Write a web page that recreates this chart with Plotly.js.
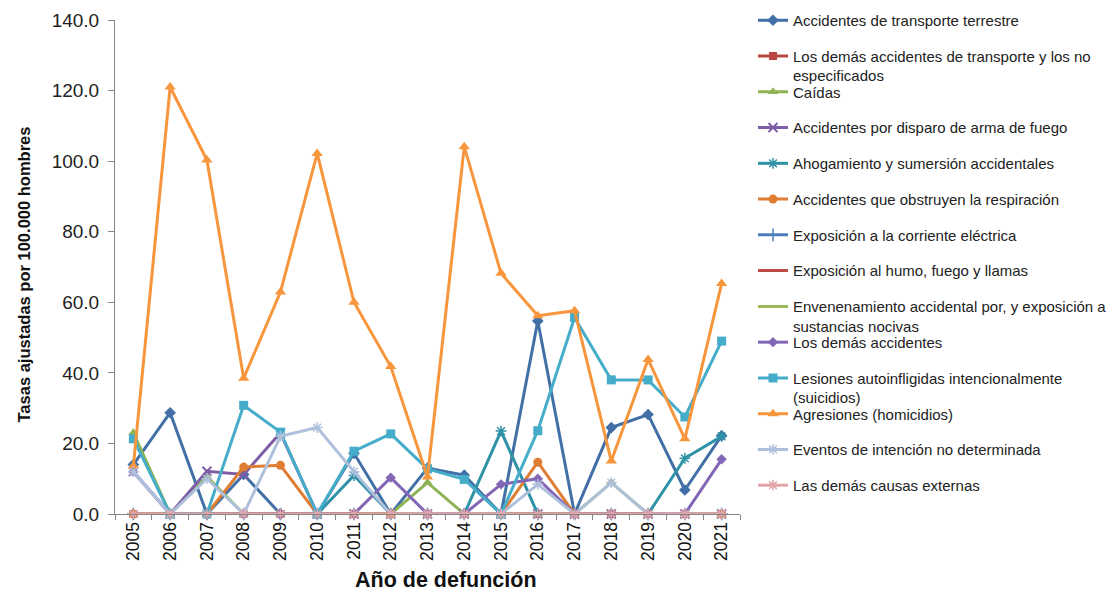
<!DOCTYPE html>
<html>
<head>
<meta charset="utf-8">
<script src="https://cdn.plot.ly/plotly-3.0.1.min.js"></script>
<style>
html,body{margin:0;padding:0;background:#fff;}
#chart{width:1113px;height:592px;}
</style>
</head>
<body>
<div id="chart"></div>
<script>
// ---- data ----
const years = ["2005","2006","2007","2008","2009","2010","2011","2012","2013","2014","2015","2016","2017","2018","2019","2020","2021"];

const transporteTerrestre   = [14.0, 28.7, 0, 11.2, 0, 0, 17.2, 0, 13.0, 11.0, 0, 54.7, 0, 24.5, 28.2, 6.8, 22.2];
const demasTransporte       = [0, 0, 0, 0, 0, 0, 0, 0, 0, 0, 0, 0, 0, 0, 0, 0, 0];
const caidas                = [23.0, 0, 10.6, 0, 0, 0, 0, 0, 8.9, 0, 0, 0, 0, 8.9, 0, 0, 0];
const disparoArmaFuego      = [12.0, 0, 12.1, 11.2, 23.0, 0, 0, 0, 0, 0, 0, 0, 0, 0, 0, 0, 0];
const ahogamiento           = [0, 0, 0, 0, 0, 0, 10.9, 0, 0, 0, 23.5, 0, 0, 0, 0, 15.8, 22.0];
const obstruyenRespiracion  = [0, 0, 0, 13.3, 13.8, 0, 0, 0, 0, 0, 0, 14.7, 0, 0, 0, 0, 0];
const corrienteElectrica    = [0, 0, 0, 0, 0, 0, 0, 0, 0, 0, 0, 0, 0, 0, 0, 0, 0];
const humoFuegoLlamas       = [0, 0, 0, 0, 0, 0, 0, 0, 0, 0, 0, 0, 0, 0, 0, 0, 0];
const envenenamiento        = [0, 0, 0, 0, 0, 0, 0, 0, 0, 0, 0, 0, 0, 0, 0, 0, 0];
const demasAccidentes       = [12.0, 0, 0, 0, 0, 0, 0, 10.3, 0, 0, 8.4, 10.0, 0, 0, 0, 0, 15.5];
const suicidios             = [21.3, 0, 0, 30.8, 23.2, 0, 17.8, 22.7, 12.8, 9.8, 0, 23.6, 55.7, 38.0, 38.0, 27.5, 49.0];
const homicidios            = [13.6, 121.0, 100.3, 38.5, 62.9, 102.2, 60.0, 41.8, 10.5, 104.1, 68.2, 56.2, 57.6, 15.0, 43.8, 21.3, 65.3];
const intencionNoDet        = [12.0, 0, 10.0, 0, 22.0, 24.5, 12.0, 0, 0, 0, 0, 8.4, 0, 8.9, 0, 0, 0];
const demasCausasExternas   = [0, 0, 0, 0, 0, 0, 0, 0, 0, 0, 0, 0, 0, 0, 0, 0, 0];

const yTicks = [0, 20, 40, 60, 80, 100, 120, 140];

// ---- traces ----
let idx = 0;
function tr(name, y, color, symbol, size, opts) {
  opts = opts || {};
  idx += 1;
  const t = {
    type: 'scatter', mode: symbol ? 'lines+markers' : 'lines',
    x: years, y: y, name: name,
    legend: idx === 1 ? 'legend' : 'legend' + idx,
    cliponaxis: false,
    line: {color: color, width: opts.lw || 3},
    hoverinfo: 'x+y+name'
  };
  if (symbol) {
    t.marker = {symbol: symbol, size: size, color: color,
      line: {color: color, width: opts.mlw || 0}};
  }
  return t;
}

const data = [
  tr('Accidentes de transporte terrestre', transporteTerrestre, '#4270A6', 'diamond', 9),
  tr('Los demás accidentes de transporte y los no<br>especificados', demasTransporte, '#B9473F', 'square', 8),
  tr('Caídas', caidas, '#8FB453', 'triangle-up', 9),
  tr('Accidentes por disparo de arma de fuego', disparoArmaFuego, '#7E5EA6', 'x-thin-open', 9, {mlw: 2}),
  tr('Ahogamiento y sumersión accidentales', ahogamiento, '#2F92A6', 'asterisk-open', 9, {mlw: 1.5}),
  tr('Accidentes que obstruyen la respiración', obstruyenRespiracion, '#DF7E33', 'circle', 9),
  tr('Exposición a la corriente eléctrica', corrienteElectrica, '#4A7EBB', 'cross-thin-open', 9, {mlw: 1.5}),
  tr('Exposición al humo, fuego y llamas', humoFuegoLlamas, '#BE4B48', null, 0),
  tr('Envenenamiento accidental por, y exposición a<br>sustancias nocivas', envenenamiento, '#9BBB59', null, 0),
  tr('Los demás accidentes', demasAccidentes, '#8466B6', 'diamond', 8),
  tr('Lesiones autoinfligidas intencionalmente<br>(suicidios)', suicidios, '#45ADC9', 'square', 9),
  tr('Agresiones (homicidios)', homicidios, '#F7963C', 'triangle-up', 10),
  tr('Eventos de intención no determinada', intencionNoDet, '#AFC0DD', 'asterisk-open', 9, {mlw: 1.5}),
  tr('Las demás causas externas', demasCausasExternas, '#E3A3A8', 'asterisk-open', 9, {mlw: 1.5})
];

const plotTop = 20, plotBottom = 514.5, plotH = plotBottom - plotTop;
const layout = {
  width: 1113, height: 592,
  margin: {l: 115, r: 373, t: plotTop, b: 592 - plotBottom, pad: 0, autoexpand: false},
  paper_bgcolor: '#ffffff', plot_bgcolor: '#ffffff',
  font: {family: '"Liberation Sans", Arial, sans-serif', color: '#222'},
  showlegend: true,
  xaxis: {
    type: 'category', range: [-0.5, 16.5],
    showline: true, linecolor: '#868686', linewidth: 1,
    ticks: 'outside', tickson: 'boundaries', ticklen: 5, tickcolor: '#868686',
    tickangle: -90, tickfont: {size: 17.5, color: '#111'},
    showgrid: false, zeroline: false, fixedrange: true
  },
  yaxis: {
    range: [0, 140], tickvals: yTicks, tickformat: '.1f',
    showline: true, linecolor: '#868686', linewidth: 1,
    ticks: 'outside', ticklen: 6, tickcolor: '#868686',
    tickfont: {size: 19, color: '#222'}, ticklabelstandoff: 5,
    showgrid: false, zeroline: false, fixedrange: true
  },
  annotations: [
    {text: '<b>Tasas ajustadas por 100.000 hombres</b>', textangle: -90,
     xref: 'paper', yref: 'paper', x: -0.146, y: (plotBottom - 275) / plotH, xanchor: 'center', yanchor: 'middle',
     showarrow: false,
     font: {size: 16.5, color: '#111', family: '"Liberation Sans Narrow", "Arial Narrow", "Liberation Sans", Arial, sans-serif'}},
    {text: '<b>Año de defunción</b>',
     xref: 'paper', yref: 'paper', x: 0.53, y: -0.134, xanchor: 'center', yanchor: 'middle',
     showarrow: false,
     font: {size: 21.5, color: '#111', family: '"Liberation Sans", Arial, sans-serif'}}
  ]
};

// one legend box per entry so entries sit on an even 35.8 px pitch like the original
const legendStep = 35.8, firstCenter = 20, legendOffset = 16;
for (let i = 0; i < data.length; i++) {
  const key = i === 0 ? 'legend' : 'legend' + (i + 1);
  const topPx = firstCenter + i * legendStep - legendOffset;
  layout[key] = {
    x: (753 - 115) / 625, xanchor: 'left',
    y: (plotBottom - topPx) / plotH, yanchor: 'top',
    font: {size: 15, color: '#222', family: '"Liberation Sans", Arial, sans-serif'},
    valign: 'top', bgcolor: 'rgba(0,0,0,0)', borderwidth: 0, itemwidth: 30
  };
}

Plotly.newPlot('chart', data, layout, {displayModeBar: false, staticPlot: true});
</script>
</body>
</html>
